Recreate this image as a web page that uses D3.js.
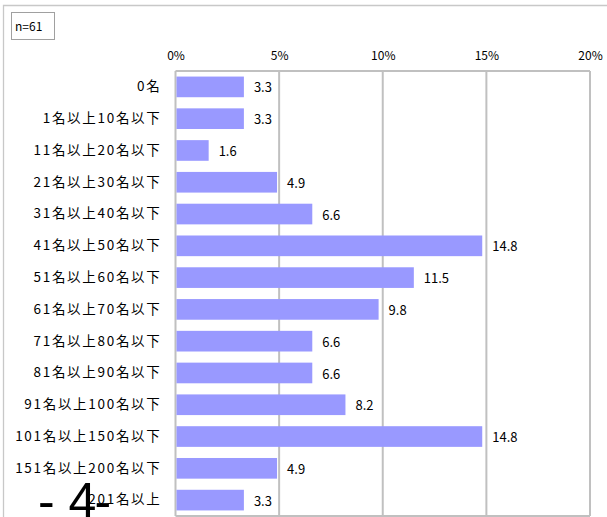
<!DOCTYPE html>
<html>
<head>
<meta charset="utf-8">
<script src="https://cdn.jsdelivr.net/npm/d3@7"></script>
<style>
  body { margin: 0; background: #fff; }
  svg { display: block; font-family: "Noto Sans CJK JP", "Noto Sans", sans-serif; }
</style>
</head>
<body>
<svg id="chart" width="607" height="517"></svg>
<script>
const categories = ["0名", "1名以上10名以下", "11名以上20名以下", "21名以上30名以下", "31名以上40名以下",
    "41名以上50名以下", "51名以上60名以下", "61名以上70名以下", "71名以上80名以下", "81名以上90名以下",
    "91名以上100名以下", "101名以上150名以下", "151名以上200名以下", "201名以上"];
const percents = [3.3, 3.3, 1.6, 4.9, 6.6, 14.8, 11.5, 9.8, 6.6, 6.6, 8.2, 14.8, 4.9, 3.3];
const xTicks = [0, 5, 10, 15, 20];
const sampleLabel = "n=61";
const pageNumber = "- 4-";

const svg = d3.select("#chart");
const plot = { left: 175.5, right: 590, top: 71, bottom: 516 };

const x = d3.scaleLinear().domain([0, 20]).range([plot.left, plot.right]);
const y = d3.scaleBand().domain(categories).range([plot.top, plot.bottom]).paddingInner(0.35).paddingOuter(0.175);

// outer frame (only top + left visible)
svg.append("path")
    .attr("d", "M3.5,517 V5.5 H607")
    .attr("fill", "none")
    .attr("stroke", "#c8c8c8")
    .attr("stroke-width", 1.3);

// n box
svg.append("rect")
    .attr("x", 11.5).attr("y", 12.5)
    .attr("width", 43).attr("height", 27)
    .attr("fill", "#fff")
    .attr("stroke", "#a0a0a0");
svg.append("text")
    .attr("x", 15).attr("y", 30.5)
    .attr("font-size", 12)
    .text(sampleLabel);

// grid lines + border
svg.append("g")
    .selectAll("line")
    .data(xTicks)
    .join("line")
    .attr("x1", d => x(d)).attr("x2", d => x(d))
    .attr("y1", plot.top).attr("y2", plot.bottom)
    .attr("stroke", "#c0c0c0")
    .attr("stroke-width", 2);
svg.append("line")
    .attr("x1", plot.left).attr("x2", plot.right)
    .attr("y1", plot.top).attr("y2", plot.top)
    .attr("stroke", "#c0c0c0").attr("stroke-width", 2);
svg.append("line")
    .attr("x1", plot.left).attr("x2", plot.right)
    .attr("y1", plot.bottom).attr("y2", plot.bottom)
    .attr("stroke", "#c0c0c0").attr("stroke-width", 2);

// top axis
const xAxis = svg.append("g")
    .attr("transform", `translate(0,${plot.top})`)
    .call(d3.axisTop(x).tickValues(xTicks).tickSize(0).tickPadding(11).tickFormat(d => d + "%"));
xAxis.select(".domain").remove();
xAxis.selectAll("text")
    .attr("font-size", 12)
    .attr("font-family", "\"Noto Sans CJK JP\", sans-serif")
    .attr("fill", "#000");

// left axis
const yAxis = svg.append("g")
    .attr("transform", `translate(${plot.left},0)`)
    .call(d3.axisLeft(y).tickSize(0).tickPadding(14));
yAxis.select(".domain").remove();
yAxis.selectAll("text")
    .attr("font-size", 13.5)
    .attr("letter-spacing", 1.7)
    .attr("font-family", "\"Noto Sans CJK JP\", sans-serif")
    .attr("fill", "#000");

// bars
svg.append("g")
    .selectAll("rect")
    .data(percents)
    .join("rect")
    .attr("x", x(0) + 1)
    .attr("y", (d, i) => y(categories[i]))
    .attr("width", d => x(d) - x(0) - 1)
    .attr("height", y.bandwidth())
    .attr("fill", "#9999ff");

// value labels
svg.append("g")
    .selectAll("text")
    .data(percents)
    .join("text")
    .attr("x", d => x(d) + 10)
    .attr("y", (d, i) => y(categories[i]) + y.bandwidth() / 2 + 1)
    .attr("dy", "0.35em")
    .attr("font-size", 13)
    .text(d => d.toFixed(1));

// page number overlapping the bottom
svg.append("text")
    .attr("x", 38)
    .attr("y", 518)
    .attr("dx", "0 0 0 -2")
    .attr("font-size", 50)
    .attr("font-family", "\"Liberation Sans\", sans-serif")
    .attr("fill", "#000")
    .text(pageNumber);
</script>
</body>
</html>
